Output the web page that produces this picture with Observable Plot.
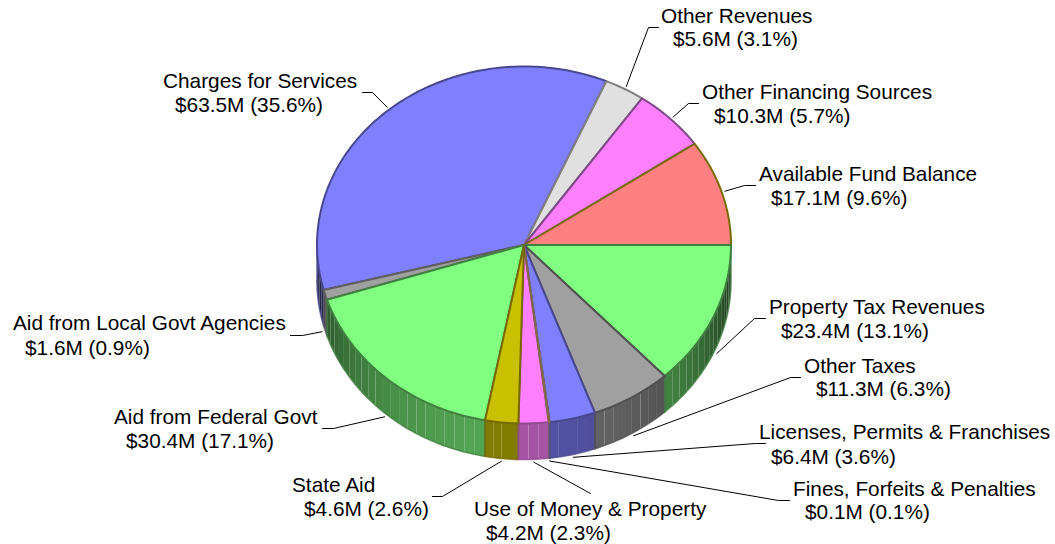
<!DOCTYPE html>
<html>
<head>
<meta charset="utf-8">
<script src="https://cdn.jsdelivr.net/npm/d3@7"></script>
<script src="https://cdn.jsdelivr.net/npm/@observablehq/plot@0.6"></script>
<style>html,body{margin:0;padding:0;background:#fff}svg{display:block}</style>
</head>
<body>
<div id="chart"></div>
<script>
const categories = ["Available Fund Balance","Other Financing Sources","Other Revenues","Charges for Services","Aid from Local Govt Agencies","Aid from Federal Govt","State Aid","Use of Money & Property","Fines, Forfeits & Penalties","Licenses, Permits & Franchises","Other Taxes","Property Tax Revenues"];
const amounts = [17.1,10.3,5.6,63.5,1.6,30.4,4.6,4.2,0.1,6.4,11.3,23.4];
const amountLabels = ["$17.1M (9.6%)","$10.3M (5.7%)","$5.6M (3.1%)","$63.5M (35.6%)","$1.6M (0.9%)","$30.4M (17.1%)","$4.6M (2.6%)","$4.2M (2.3%)","$0.1M (0.1%)","$6.4M (3.6%)","$11.3M (6.3%)","$23.4M (13.1%)"];
const fills = ["#ff8080","#ff80ff","#e0e0e0","#8080ff","#a0a0a0","#80ff80","#c8c000","#ff80ff","#c0a0a0","#8080ff","#a0a0a0","#80ff80"];
const strokes = ["#786c00","#804a88","#808080","#484890","#606060","#408040","#786800","#904a90","#806848","#484890","#505050","#408040"];
const paintOrder = [3,4,2,1,0,11,10,9,5,7,8,6];
// label placement: text left edge, baselines of both lines, leader elbow, leader end
const labelX = [758.5,701.5,660.5,162.5,12.5,113.5,291.5,473.5,792.5,758.5,803.5,768.5];
const labelY = [180,98,22,87,329,423,491,515,495,438,372,313];
const labelY2 = [204,122,45,111,354,447,515,539,518,463,395,337];
const elbowX = [744,688,648,372,302,333,442,590,778,755,790,754];
const elbowY = [185,103,27,92,335,428,496,493,500,443,377,318];
const endX = [755,698,658,362,290,322,432,590,789,765,800,765];

const W = 1055, H = 544;
const cx = 523.5, cy = 244.5, rx = 207, ry = 178.5, depth = 36;
const total = d3.sum(amounts);
const starts = [];
amounts.reduce((acc, v, i) => (starts[i] = acc, acc + v), 0);
const rad = d => d * Math.PI / 180;
const a0 = i => starts[i] / total * 360;
const a1 = i => (starts[i] + amounts[i]) / total * 360;
const px = a => cx + rx * Math.cos(rad(a));
const py = (a, z = 0) => cy - ry * Math.sin(rad(a)) + z;
const shade = a => 0.2 + 0.45 * Math.max(0, Math.cos(rad(a - 268)));
const tint = (c, k) => { const r = d3.rgb(c); return d3.rgb(r.r * k, r.g * k, r.b * k).formatRgb(); };

function arc(i, from, to, step) {
  const pts = [];
  const n = Math.max(1, Math.ceil((to - from) / step));
  for (let k = 0; k <= n; k++) pts.push(from + (to - from) * k / n);
  return pts;
}

const facets = [], sideEdges = [], tops = [];
categories.forEach((name, i) => {
  const s = a0(i), e = a1(i);
  if (e > 180) {
    const from = Math.max(s, 180);
    const grid = arc(i, from, e, 3);
    for (let k = 0; k < grid.length - 1; k++) {
      const p = grid[k], q = grid[k + 1], color = tint(fills[i], shade((p + q) / 2)), id = `${i}-${k}`;
      facets.push({x: px(p), y: py(p), id, color}, {x: px(q), y: py(q), id, color},
                  {x: px(q), y: py(q, depth), id, color}, {x: px(p), y: py(p, depth), id, color});
    }
    const fine = arc(i, from, e, 1);
    const color = strokes[i];
    fine.forEach(a => sideEdges.push({x: px(a), y: py(a, depth), id: i, color}));
    sideEdges.push({x: px(e), y: py(e), id: i, color});
    const rev = {x: px(from), y: py(from), id: i + 100, color};
    sideEdges.push(rev, {x: px(from), y: py(from, depth), id: i + 100, color});
  }
});
paintOrder.forEach(i => {
  const pts = arc(i, a0(i), a1(i), 1);
  const base = {id: i, fill: fills[i], stroke: strokes[i]};
  tops.push({x: cx, y: cy, ...base});
  pts.forEach(a => tops.push({x: px(a), y: py(a), ...base}));
  tops.push({x: cx, y: cy, ...base});
});

const leaders = [], texts = [];
categories.forEach((name, i) => {
  const mid = (a0(i) + a1(i)) / 2;
  const k = 1.016;
  const sx = cx + rx * k * Math.cos(rad(mid));
  const sy = cy - ry * k * Math.sin(rad(mid)) + (mid > 180 ? depth : 0);
  leaders.push({x: sx, y: sy, id: i}, {x: elbowX[i], y: elbowY[i], id: i}, {x: endX[i], y: elbowY[i], id: i});
  texts.push({x: labelX[i], y: labelY[i], t: name}, {x: labelX[i] + 12, y: labelY2[i], t: amountLabels[i]});
});

const chart = Plot.plot({
  width: W, height: H, margin: 0,
  style: {background: "#fff"},
  x: {domain: [0, W], range: [0, W], axis: null},
  y: {domain: [0, H], range: [0, H], axis: null},
  color: {type: "identity"},
  marks: [
    Plot.line(facets, {x: "x", y: "y", z: "id", fill: "color", stroke: "none"}),
    Plot.line(sideEdges, {x: "x", y: "y", z: "id", stroke: "color", strokeWidth: 1.6, strokeOpacity: 0.8}),
    Plot.line(tops, {x: "x", y: "y", z: "id", fill: "fill", stroke: "stroke", strokeWidth: 2, strokeLinejoin: "round"}),
    Plot.line(leaders, {x: "x", y: "y", z: "id", stroke: "#000", strokeWidth: 1}),
    Plot.text(texts, {x: "x", y: "y", text: "t", textAnchor: "start", lineAnchor: "bottom", fontSize: 20.8, fontFamily: "'Liberation Sans', Arial, sans-serif", fill: "#000"})
  ]
});
document.getElementById("chart").append(chart);
</script>
</body>
</html>
